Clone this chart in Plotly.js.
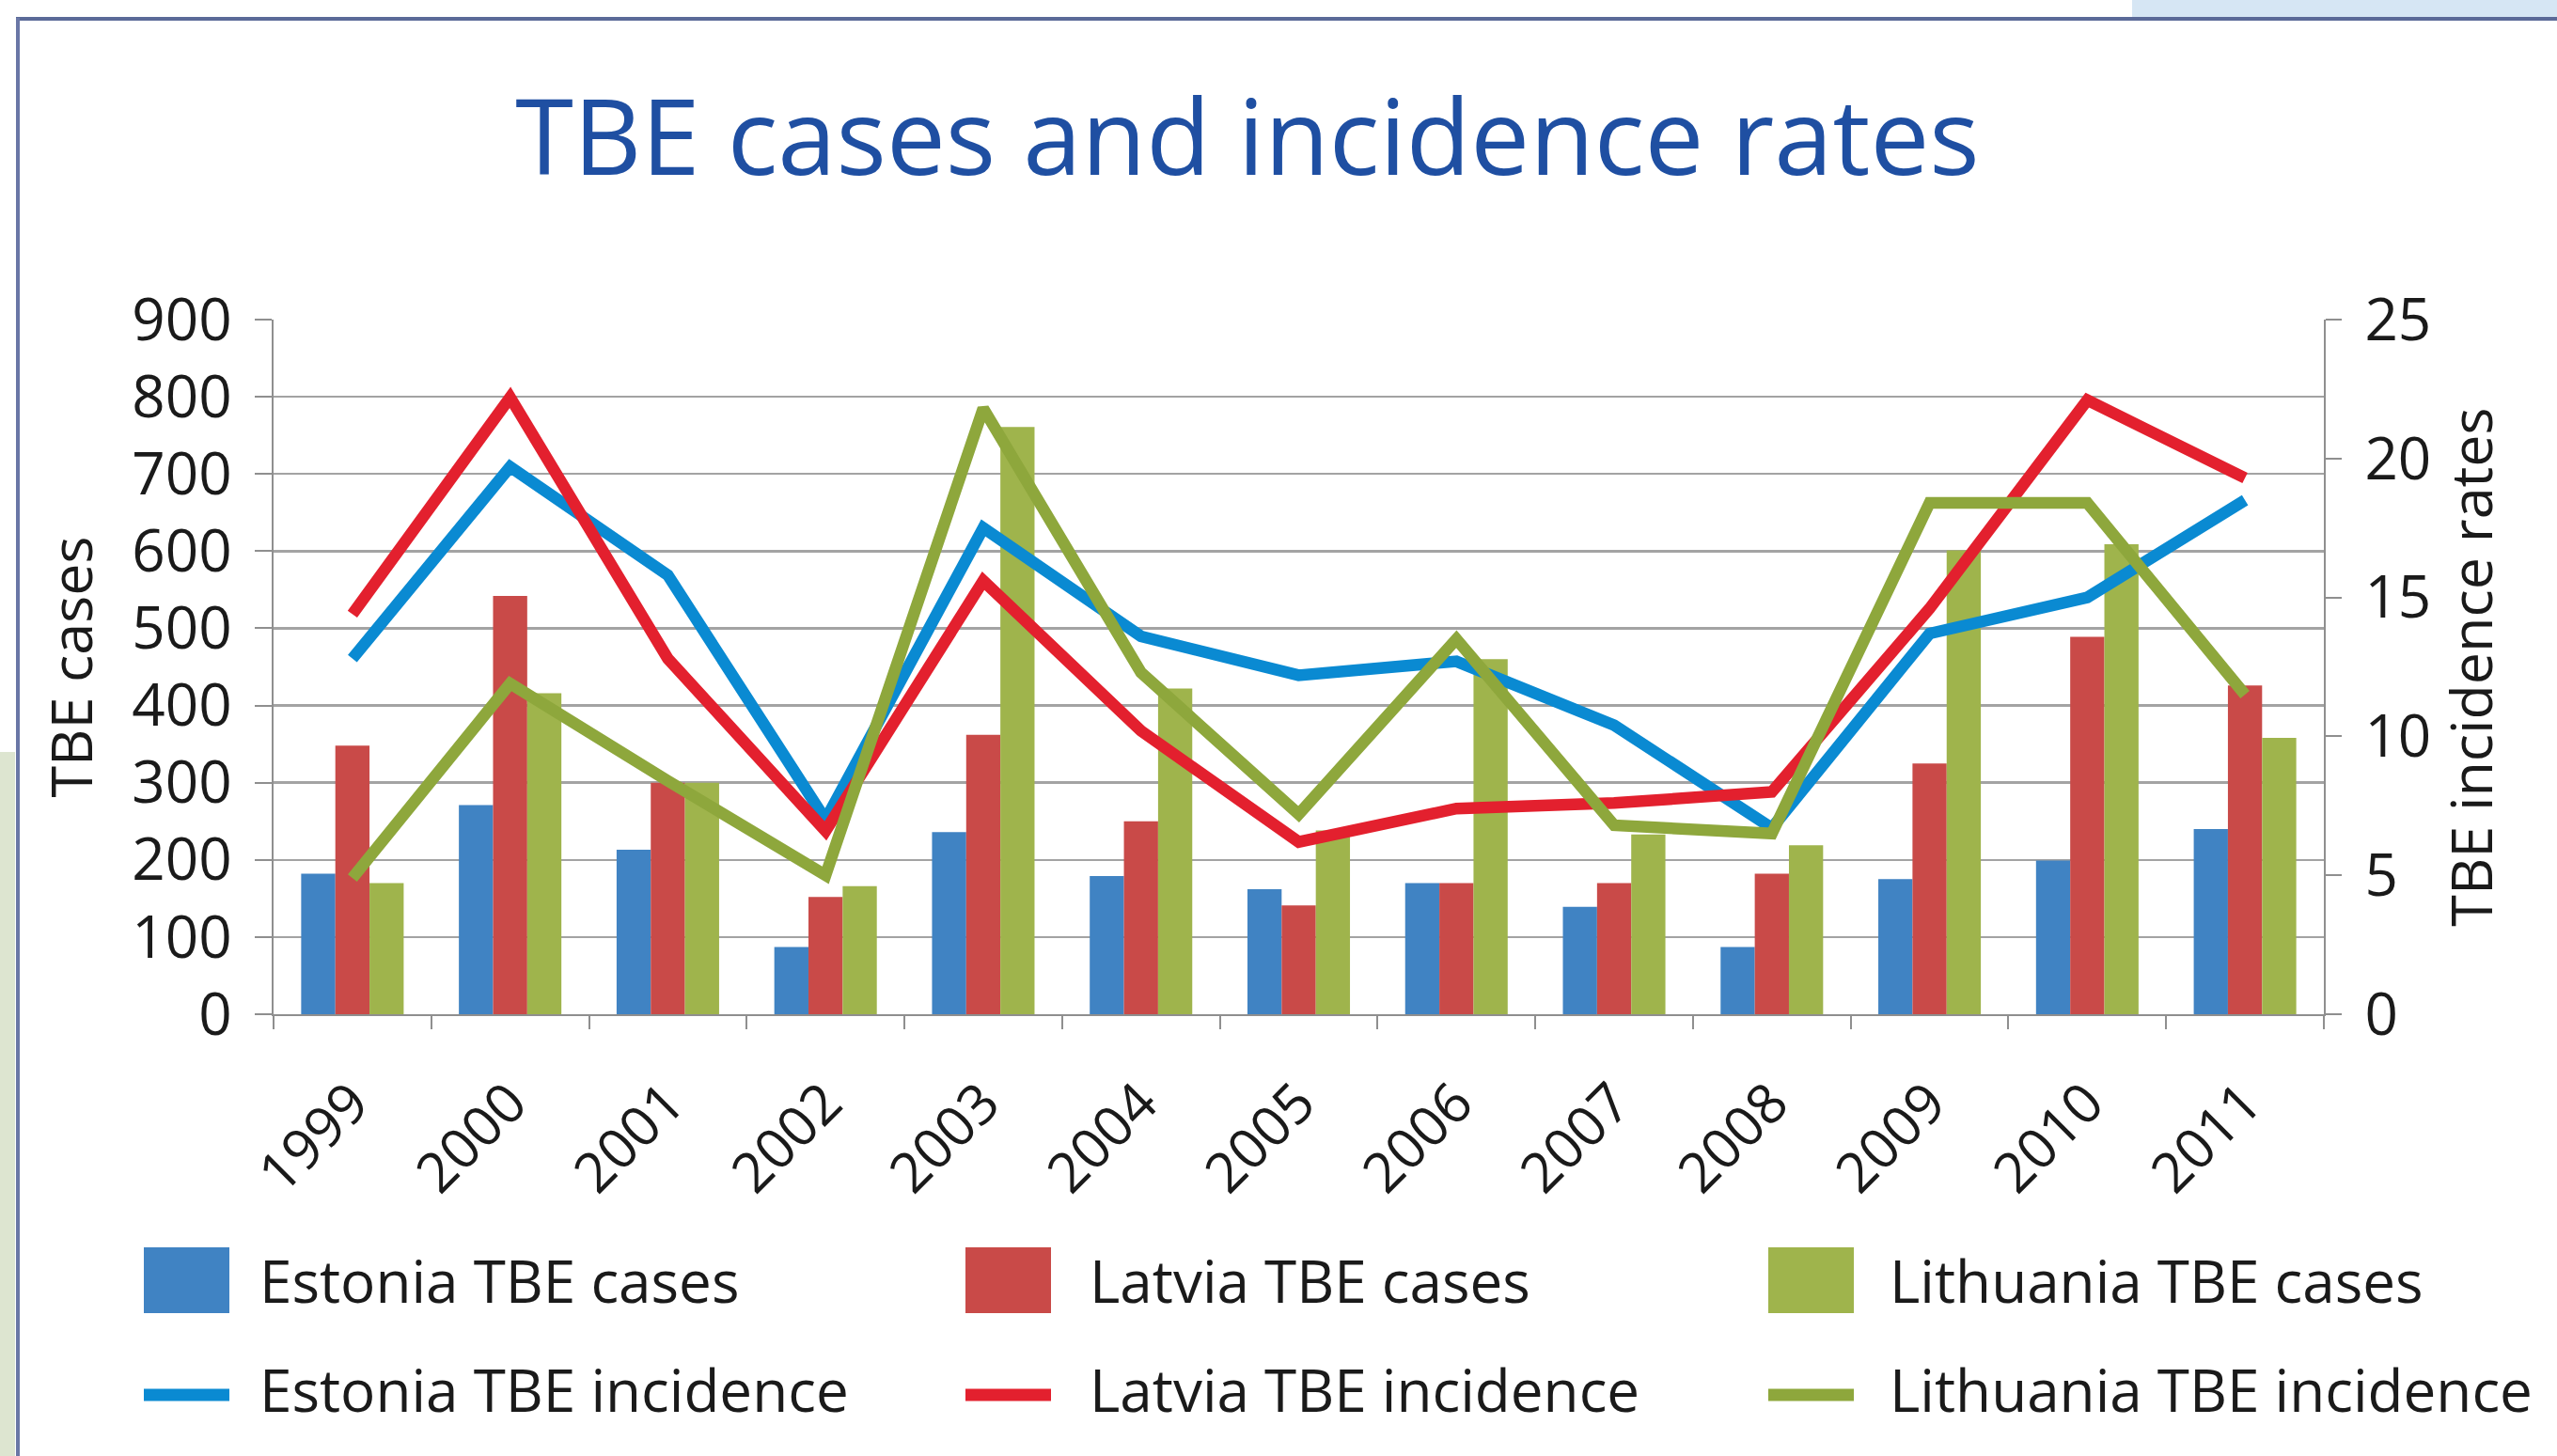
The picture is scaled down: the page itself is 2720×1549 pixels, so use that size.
<!DOCTYPE html>
<html>
<head>
<meta charset="utf-8">
<script src="https://cdn.plot.ly/plotly-3.0.1.min.js"></script>
<style>
  html, body { margin: 0; padding: 0; background: #ffffff; }
  #chart { width: 2720px; height: 1549px; }
</style>
</head>
<body>
<div id="chart"></div>
<script>
// ---- Data ----
const years = ['1999','2000','2001','2002','2003','2004','2005','2006','2007','2008','2009','2010','2011'];

const estoniaCases   = [182, 271, 213, 87, 236, 179, 162, 170, 139, 87, 175, 199, 240];
const latviaCases    = [348, 542, 300, 152, 362, 250, 141, 170, 170, 182, 325, 489, 426];
const lithuaniaCases = [170, 416, 300, 166, 761, 422, 238, 460, 233, 219, 601, 609, 358];

const estoniaIncidence   = [12.8, 19.7, 15.8, 7.0, 17.5, 13.6, 12.2, 12.7, 10.4, 6.7, 13.7, 15.0, 18.5];
const latviaIncidence    = [14.4, 22.2, 12.8, 6.6, 15.6, 10.2, 6.2, 7.4, 7.6, 8.0, 14.6, 22.1, 19.3];
const lithuaniaIncidence = [4.9, 11.9, 8.4, 5.0, 21.8, 12.3, 7.2, 13.5, 6.8, 6.5, 18.4, 18.4, 11.5];

const caseNames = ['Estonia TBE cases', 'Latvia TBE cases', 'Lithuania TBE cases'];
const incidenceNames = ['Estonia TBE incidence', 'Latvia TBE incidence', 'Lithuania TBE incidence'];

const titleText = 'TBE cases and incidence rates';
const leftAxisTitle = 'TBE cases';
const rightAxisTitle = 'TBE incidence rates';

// ---- Styles ----
const barColors  = ['#4083c3', '#c94a48', '#9fb44c'];
const lineColors = ['#0a8ad2', '#e3202e', '#8ea73c'];
const FONT = '"Open Sans", "DejaVu Sans", sans-serif';

const W = 2720, H = 1549;
const M = { l: 291, r: 248, t: 340, b: 470 };
const PW = W - M.l - M.r, PH = H - M.t - M.b;
const px = x => (x - M.l) / PW;
const py = y => 1 - (y - M.t) / PH;

const caseSeries = [estoniaCases, latviaCases, lithuaniaCases];
const incSeries  = [estoniaIncidence, latviaIncidence, lithuaniaIncidence];

const traces = [];
caseSeries.forEach((vals, i) => {
  traces.push({
    type: 'bar', x: years, y: vals, name: caseNames[i],
    marker: { color: barColors[i], line: { width: 0 } },
    yaxis: 'y', showlegend: false
  });
});
incSeries.forEach((vals, i) => {
  traces.push({
    type: 'scatter', mode: 'lines', x: years, y: vals, name: incidenceNames[i],
    line: { color: lineColors[i], width: 12.5 },
    yaxis: 'y2', showlegend: false
  });
});

// ---- Custom legend (big swatches like the original) ----
const shapes = [];
const annotations = [];
const colSymX = [153, 1027, 1881];
const colTextX = [274, 1157, 2008];
const row1Y = 1362, row2Y = 1478;
for (let i = 0; i < 3; i++) {
  shapes.push({
    type: 'rect', xref: 'paper', yref: 'paper',
    x0: px(colSymX[i]), x1: px(colSymX[i] + 91),
    y0: py(row1Y - 35), y1: py(row1Y + 35),
    fillcolor: barColors[i], line: { width: 0 }
  });
  annotations.push({
    xref: 'paper', yref: 'paper', x: px(colTextX[i]), y: py(row1Y),
    xanchor: 'left', yanchor: 'middle', showarrow: false,
    text: caseNames[i], font: { family: FONT, size: 62, color: '#1a1a1a' }
  });
  shapes.push({
    type: 'line', xref: 'paper', yref: 'paper',
    x0: px(colSymX[i]), x1: px(colSymX[i] + 91),
    y0: py(row2Y + 6), y1: py(row2Y + 6),
    line: { color: lineColors[i], width: 13 }
  });
  annotations.push({
    xref: 'paper', yref: 'paper', x: px(colTextX[i]), y: py(row2Y),
    xanchor: 'left', yanchor: 'middle', showarrow: false,
    text: incidenceNames[i], font: { family: FONT, size: 62, color: '#1a1a1a' }
  });
}

// ---- Page frame decoration ----
shapes.push({ type: 'rect', xref: 'paper', yref: 'paper', layer: 'below',
  x0: px(2268), x1: px(2720), y0: py(0), y1: py(19),
  fillcolor: '#d6e6f4', line: { width: 0 } });
shapes.push({ type: 'rect', xref: 'paper', yref: 'paper', layer: 'below',
  x0: px(0), x1: px(16), y0: py(800), y1: py(1549),
  fillcolor: '#dde5d0', line: { width: 0 } });
shapes.push({ type: 'line', xref: 'paper', yref: 'paper',
  x0: px(17), x1: px(2720), y0: py(20), y1: py(20),
  line: { color: '#5b6a98', width: 4 } });
shapes.push({ type: 'line', xref: 'paper', yref: 'paper',
  x0: px(19), x1: px(19), y0: py(19), y1: py(1549),
  line: { color: '#6a77a6', width: 4 } });

const axisColor = '#8f8f8f';
const layout = {
  width: W, height: H,
  margin: M,
  paper_bgcolor: '#ffffff', plot_bgcolor: '#ffffff',
  font: { family: FONT, color: '#1a1a1a' },
  title: {
    text: titleText,
    font: { family: FONT, size: 112, color: '#1f4fa2' },
    x: 1327 / W, xanchor: 'center', xref: 'container',
    y: 1 - 147 / H, yanchor: 'middle', yref: 'container'
  },
  barmode: 'group', bargap: 0.35, bargroupgap: 0,
  showlegend: false,
  xaxis: {
    type: 'category',
    showline: true, linecolor: axisColor, linewidth: 2,
    ticks: 'outside', tickson: 'boundaries', ticklen: 14, tickcolor: axisColor, tickwidth: 2,
    tickangle: -45, tickfont: { family: FONT, size: 59, color: '#1a1a1a' },
    ticklabelstandoff: 34,
    showgrid: false, zeroline: false
  },
  yaxis: {
    range: [0, 900], dtick: 100, tick0: 0,
    showline: true, linecolor: axisColor, linewidth: 2,
    ticks: 'outside', ticklen: 18, tickcolor: axisColor, tickwidth: 2,
    tickfont: { family: FONT, size: 62, color: '#1a1a1a' },
    ticklabelstandoff: 12,
    showgrid: true, gridcolor: '#a3a3a3', gridwidth: 2.5,
    zeroline: false,
    title: { text: leftAxisTitle, font: { family: FONT, size: 61, color: '#1a1a1a' }, standoff: 22 }
  },
  yaxis2: {
    overlaying: 'y', side: 'right',
    range: [0, 25], dtick: 5, tick0: 0,
    showline: true, linecolor: axisColor, linewidth: 2,
    ticks: 'outside', ticklen: 17, tickcolor: axisColor, tickwidth: 2,
    tickfont: { family: FONT, size: 62, color: '#1a1a1a' },
    ticklabelstandoff: 12,
    showgrid: false, zeroline: false,
    title: { text: rightAxisTitle, font: { family: FONT, size: 61, color: '#1a1a1a' }, standoff: 22 }
  },
  shapes: shapes,
  annotations: annotations
};

Plotly.newPlot('chart', traces, layout, { displayModeBar: false, staticPlot: true });
</script>
</body>
</html>
